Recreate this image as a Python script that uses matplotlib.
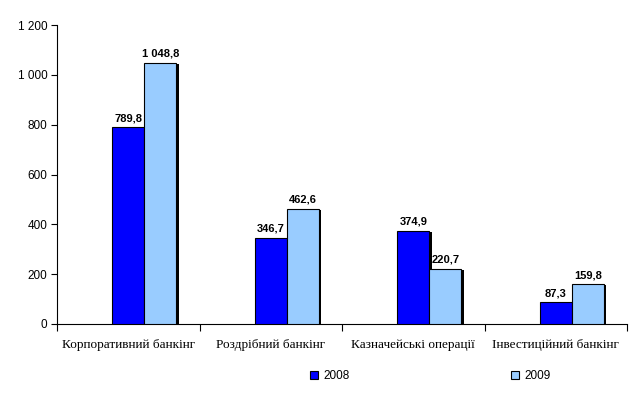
import matplotlib
matplotlib.use("Agg")
import matplotlib.pyplot as plt
import matplotlib.patheffects as pe
import numpy as np
from matplotlib.ticker import FuncFormatter

categories = ["Корпоративний банкінг", "Роздрібний банкінг",
              "Казначейські операції", "Інвестиційний банкінг"]
years = ["2008", "2009"]
values_2008 = [789.8, 346.7, 374.9, 87.3]
values_2009 = [1048.8, 462.6, 220.7, 159.8]

colors = ["#0000FF", "#99CCFF"]


def fmt_num(v, decimals=1):
    s = f"{v:,.{decimals}f}"
    return s.replace(",", " ").replace(".", ",")


fig = plt.figure(figsize=(6.43, 3.98), dpi=100)
ax = fig.add_axes([57 / 643, 1 - 324 / 398, 570 / 643, 299 / 398])

x = np.arange(len(categories))
w = 0.225
shadow = [pe.SimplePatchShadow(offset=(1.8, -0.8), shadow_rgbFace="black", alpha=1), pe.Normal()]

for k, (vals, col) in enumerate(zip([values_2008, values_2009], colors)):
    pos = x + k * w
    bars = ax.bar(pos, vals, width=w, color=col, edgecolor="black", linewidth=0.8,
                  label=years[k], zorder=3)
    for b in bars:
        b.set_path_effects(shadow)
    for p, v in zip(pos, vals):
        ax.annotate(fmt_num(v), (p, v), xytext=(0, 3), textcoords="offset points",
                    ha="center", va="bottom", fontsize=8, fontweight="bold",
                    family="Liberation Sans")

ax.set_xlim(-0.5, len(categories) - 0.5)
ax.set_ylim(0, 1200)
ax.set_yticks(range(0, 1201, 200))
ax.yaxis.set_major_formatter(FuncFormatter(lambda v, _: fmt_num(v, 0)))
ax.tick_params(axis="y", labelsize=8.5, length=4, width=0.8, direction="out", pad=3)
for t in ax.get_yticklabels():
    t.set_family("Liberation Sans")

ax.set_xticks(np.arange(-0.5, len(categories), 1.0))
ax.set_xticklabels([])
ax.set_xticks(x, minor=True)
ax.set_xticklabels(categories, minor=True, family="Liberation Serif", fontsize=9.5)
ax.tick_params(axis="x", which="major", length=5, width=0.8, direction="out")
ax.tick_params(axis="x", which="minor", length=0, pad=11)

for s in ["top", "right"]:
    ax.spines[s].set_visible(False)
for s in ["left", "bottom"]:
    ax.spines[s].set_linewidth(0.8)

leg = fig.legend(loc="center", bbox_to_anchor=(0.669, 1 - 376 / 398), ncol=2,
                 frameon=False, handlelength=0.7, handleheight=0.7,
                 handletextpad=0.4, columnspacing=13.7,
                 prop={"family": "Liberation Sans", "size": 8.5})
for h in leg.legend_handles:
    h.set_path_effects([])

fig.savefig("out.png", dpi=100)
